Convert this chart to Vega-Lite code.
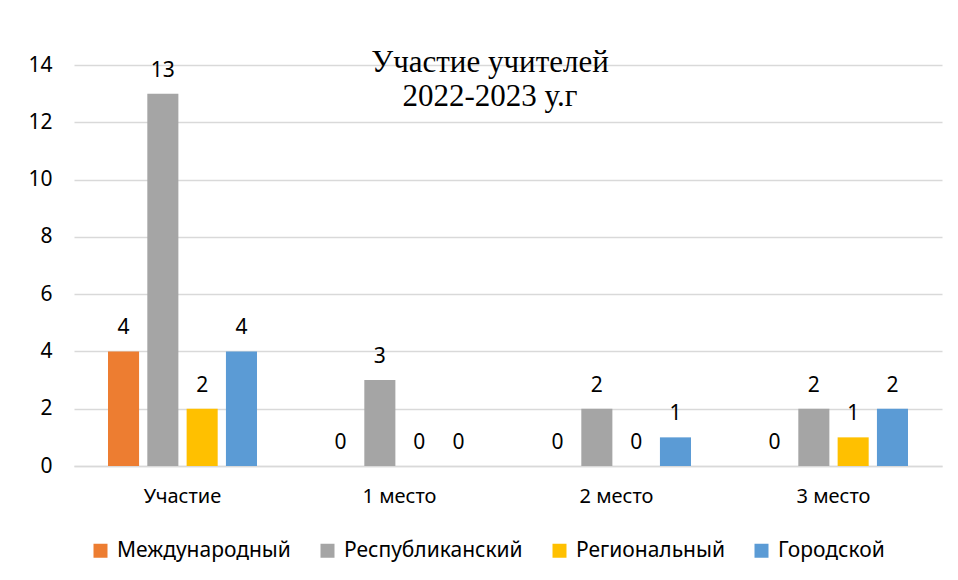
{
  "$schema": "https://vega.github.io/schema/vega-lite/v6.json",
  "width": 868,
  "height": 401,
  "autosize": {"type": "none"},
  "padding": {"left": 74, "top": 65, "right": 16, "bottom": 114},
  "background": "white",
  "title": {
    "text": ["Участие учителей", "2022-2023 у.г"],
    "font": "Liberation Serif",
    "fontSize": 31,
    "fontWeight": "normal",
    "color": "#000000",
    "anchor": "middle",
    "frame": "group",
    "baseline": "alphabetic",
    "lineHeight": 34,
    "offset": -83,
    "dx": -18
  },
  "data": {
    "values": [
      {"category": "Участие", "level": "Международный", "value": 4},
      {"category": "Участие", "level": "Республиканский", "value": 13},
      {"category": "Участие", "level": "Региональный", "value": 2},
      {"category": "Участие", "level": "Городской", "value": 4},
      {"category": "1 место", "level": "Международный", "value": 0},
      {"category": "1 место", "level": "Республиканский", "value": 3},
      {"category": "1 место", "level": "Региональный", "value": 0},
      {"category": "1 место", "level": "Городской", "value": 0},
      {"category": "2 место", "level": "Международный", "value": 0},
      {"category": "2 место", "level": "Республиканский", "value": 2},
      {"category": "2 место", "level": "Региональный", "value": 0},
      {"category": "2 место", "level": "Городской", "value": 1},
      {"category": "3 место", "level": "Международный", "value": 0},
      {"category": "3 место", "level": "Республиканский", "value": 2},
      {"category": "3 место", "level": "Региональный", "value": 1},
      {"category": "3 место", "level": "Городской", "value": 2}
    ]
  },
  "encoding": {
    "x": {
      "field": "category",
      "type": "nominal",
      "sort": ["Участие", "1 место", "2 место", "3 место"],
      "scale": {"paddingInner": 0, "paddingOuter": 0},
      "axis": {
        "title": null,
        "labelAngle": 0,
        "labelFont": "Noto Sans",
        "labelFontSize": 20,
        "labelColor": "#000000",
        "labelPadding": 20,
        "ticks": false,
        "domain": true,
        "domainColor": "#D9D9D9",
        "domainWidth": 1.5
      }
    },
    "xOffset": {
      "field": "level",
      "type": "nominal",
      "sort": ["Международный", "Республиканский", "Региональный", "Городской"],
      "scale": {"paddingInner": 0.21, "paddingOuter": 0.865}
    },
    "y": {
      "field": "value",
      "type": "quantitative",
      "scale": {"domain": [0, 14]},
      "axis": {
        "title": null,
        "values": [0, 2, 4, 6, 8, 10, 12, 14],
        "labelFont": "Noto Sans",
        "labelFontSize": 21,
        "labelColor": "#000000",
        "labelPadding": 22,
        "ticks": false,
        "domain": false,
        "gridColor": "#D9D9D9",
        "gridWidth": 1.5
      }
    }
  },
  "layer": [
    {
      "mark": {"type": "bar"},
      "encoding": {
        "color": {
          "field": "level",
          "type": "nominal",
          "sort": ["Международный", "Республиканский", "Региональный", "Городской"],
          "scale": {
            "domain": ["Международный", "Республиканский", "Региональный", "Городской"],
            "range": ["#ED7D31", "#A5A5A5", "#FFC000", "#5B9BD5"]
          },
          "legend": {
            "title": null,
            "orient": "none",
            "direction": "horizontal",
            "legendX": 16,
            "legendY": 475,
            "symbolType": "square",
            "symbolSize": 196,
            "symbolStrokeWidth": 0,
            "labelFont": "Noto Sans",
            "labelFontSize": 21,
            "labelColor": "#000000",
            "labelOffset": 6,
            "columnPadding": 26,
            "labelLimit": 400
          }
        }
      }
    },
    {
      "mark": {
        "type": "text",
        "dy": -17,
        "baseline": "alphabetic",
        "font": "Noto Sans",
        "fontSize": 21,
        "color": "#000000"
      },
      "encoding": {
        "text": {"field": "value", "type": "quantitative"}
      }
    }
  ],
  "config": {"view": {"stroke": null}}
}
